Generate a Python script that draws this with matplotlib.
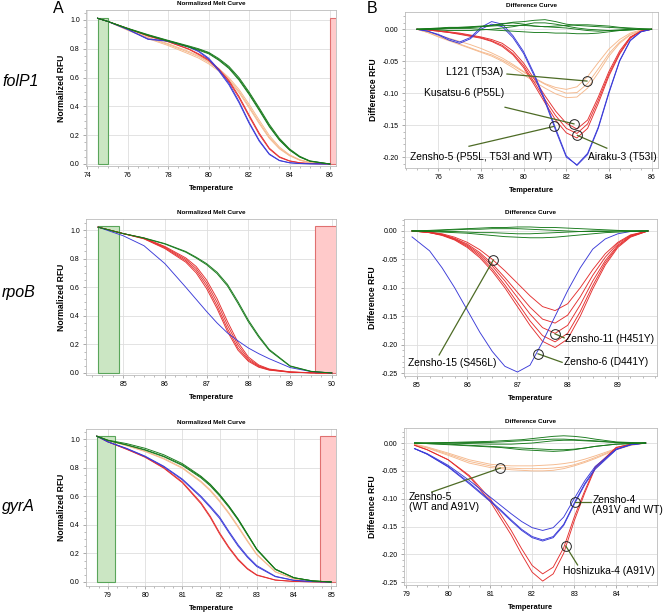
import matplotlib
matplotlib.use('Agg')
import matplotlib.pyplot as plt
from matplotlib.patches import Rectangle
from matplotlib.ticker import MultipleLocator, AutoMinorLocator

plt.rcParams['font.family'] = ['Liberation Sans', 'DejaVu Sans']

# ---------------- folP1 : normalized melt ----------------
folp1_melt_t = [74.5, 75, 76, 77, 78, 79, 79.5, 80, 80.5, 81, 81.5, 82, 82.5, 83, 83.5, 84, 84.5, 85, 86]
folp1_melt_green = [
    [1.012, 0.99, 0.94, 0.895, 0.855, 0.815, 0.795, 0.77, 0.725, 0.67, 0.59, 0.49, 0.38, 0.265, 0.17, 0.10, 0.05, 0.02, 0.0],
    [1.012, 0.99, 0.942, 0.898, 0.858, 0.82, 0.80, 0.775, 0.732, 0.678, 0.60, 0.50, 0.39, 0.275, 0.178, 0.105, 0.054, 0.022, 0.0],
    [1.012, 0.99, 0.938, 0.892, 0.852, 0.812, 0.79, 0.765, 0.72, 0.663, 0.582, 0.482, 0.372, 0.258, 0.165, 0.096, 0.048, 0.019, 0.0],
]
folp1_melt_orange = [
    [1.012, 0.99, 0.93, 0.875, 0.83, 0.775, 0.745, 0.705, 0.655, 0.59, 0.505, 0.40, 0.29, 0.185, 0.11, 0.06, 0.028, 0.01, 0.0],
    [1.012, 0.99, 0.928, 0.87, 0.822, 0.765, 0.735, 0.695, 0.645, 0.58, 0.495, 0.39, 0.28, 0.178, 0.105, 0.057, 0.026, 0.009, 0.0],
    [1.012, 0.99, 0.932, 0.878, 0.835, 0.782, 0.752, 0.712, 0.663, 0.60, 0.518, 0.415, 0.305, 0.198, 0.118, 0.064, 0.03, 0.011, 0.0],
]
folp1_melt_red = [
    [1.012, 0.99, 0.94, 0.89, 0.85, 0.80, 0.765, 0.725, 0.66, 0.58, 0.47, 0.34, 0.215, 0.11, 0.05, 0.022, 0.009, 0.003, 0.0],
    [1.012, 0.99, 0.94, 0.888, 0.848, 0.797, 0.76, 0.718, 0.652, 0.57, 0.46, 0.33, 0.205, 0.104, 0.046, 0.02, 0.008, 0.003, 0.0],
]
folp1_melt_blue = [
    [1.012, 0.99, 0.935, 0.868, 0.855, 0.815, 0.785, 0.735, 0.655, 0.56, 0.435, 0.29, 0.165, 0.07, 0.025, 0.009, 0.003, 0.001, 0.0],
    [1.012, 0.99, 0.933, 0.865, 0.852, 0.812, 0.78, 0.728, 0.646, 0.55, 0.425, 0.282, 0.158, 0.066, 0.023, 0.008, 0.003, 0.001, 0.0],
]

# ---------------- folP1 : difference ----------------
folp1_diff_t = [75, 75.5, 76, 76.5, 77, 77.5, 78, 78.5, 79, 79.5, 80, 80.5, 81, 81.5, 82, 82.5, 83, 83.5, 84, 84.5, 85, 85.5, 86]
folp1_diff_green = [
    [0, 0.001, 0.002, 0.003, 0.003, 0.004, 0.005, 0.006, 0.008, 0.011, 0.012, 0.014, 0.015, 0.012, 0.008, 0.006, 0.005, 0.004, 0.003, 0.002, 0.001, 0.0, 0],
    [0, 0.0, 0.001, 0.002, 0.002, 0.003, 0.004, 0.006, 0.009, 0.01, 0.008, 0.005, 0.004, 0.003, 0.002, 0.0, -0.002, -0.003, -0.002, -0.001, 0.0, 0.0, 0],
    [0, 0.0, 0.0, 0.001, 0.001, 0.001, 0.0, -0.001, -0.002, -0.003, -0.004, -0.005, -0.005, -0.006, -0.006, -0.007, -0.007, -0.006, -0.004, -0.002, -0.001, 0.0, 0],
    [0, 0.001, 0.001, 0.002, 0.003, 0.003, 0.004, 0.005, 0.006, 0.006, 0.006, 0.005, 0.004, 0.005, 0.006, 0.007, 0.007, 0.006, 0.005, 0.003, 0.002, 0.001, 0],
    [0, 0, -0.001, -0.002, -0.002, -0.002, -0.001, 0.0, 0.002, 0.004, 0.007, 0.01, 0.01, 0.008, 0.005, 0.002, 0.0, -0.001, -0.002, -0.002, -0.001, 0, 0],
]
folp1_diff_orange = [
    [0, -0.005, -0.011, -0.017, -0.023, -0.029, -0.035, -0.04, -0.048, -0.057, -0.067, -0.077, -0.086, -0.094, -0.1, -0.099, -0.085, -0.062, -0.038, -0.02, -0.008, -0.002, 0],
    [0, -0.005, -0.012, -0.018, -0.024, -0.03, -0.036, -0.042, -0.05, -0.06, -0.071, -0.082, -0.092, -0.101, -0.107, -0.106, -0.092, -0.068, -0.042, -0.022, -0.009, -0.002, 0],
    [0, -0.004, -0.009, -0.014, -0.019, -0.024, -0.03, -0.037, -0.045, -0.055, -0.066, -0.076, -0.085, -0.091, -0.094, -0.09, -0.074, -0.052, -0.031, -0.016, -0.006, -0.001, 0],
]
folp1_diff_red = [
    [0, -0.001, -0.003, -0.005, -0.007, -0.01, -0.013, -0.018, -0.025, -0.038, -0.057, -0.083, -0.11, -0.135, -0.155, -0.163, -0.148, -0.111, -0.07, -0.037, -0.013, -0.003, 0],
    [0, -0.001, -0.003, -0.005, -0.008, -0.011, -0.014, -0.019, -0.027, -0.04, -0.06, -0.087, -0.115, -0.142, -0.162, -0.17, -0.155, -0.116, -0.073, -0.039, -0.014, -0.003, 0],
    [0, -0.001, -0.002, -0.004, -0.006, -0.009, -0.012, -0.016, -0.022, -0.034, -0.053, -0.078, -0.104, -0.128, -0.147, -0.156, -0.142, -0.106, -0.066, -0.034, -0.012, -0.003, 0],
]
folp1_diff_blue = [
    [0, -0.003, -0.008, -0.015, -0.02, -0.013, 0.003, 0.012, 0.008, -0.01, -0.035, -0.07, -0.11, -0.155, -0.198, -0.213, -0.196, -0.155, -0.10, -0.05, -0.018, -0.004, 0],
    [0, -0.003, -0.009, -0.017, -0.022, -0.015, 0.0, 0.008, 0.004, -0.013, -0.038, -0.073, -0.113, -0.158, -0.2, -0.212, -0.194, -0.153, -0.098, -0.049, -0.017, -0.004, 0],
]

# ---------------- rpoB : normalized melt ----------------
rpob_melt_t = [84.4, 85, 85.5, 86, 86.5, 86.75, 87, 87.25, 87.5, 87.75, 88, 88.25, 88.5, 89, 89.5, 90]
rpob_melt_green = [
    [1.02, 0.975, 0.945, 0.905, 0.85, 0.81, 0.765, 0.705, 0.62, 0.5, 0.37, 0.26, 0.165, 0.05, 0.012, 0.0],
    [1.02, 0.975, 0.943, 0.902, 0.845, 0.804, 0.757, 0.695, 0.608, 0.487, 0.358, 0.25, 0.158, 0.047, 0.011, 0.0],
]
rpob_melt_red = [
    [1.02, 0.975, 0.94, 0.875, 0.785, 0.715, 0.61, 0.47, 0.31, 0.175, 0.09, 0.045, 0.022, 0.006, 0.001, 0.0],
    [1.02, 0.975, 0.942, 0.88, 0.795, 0.73, 0.63, 0.495, 0.335, 0.195, 0.1, 0.05, 0.025, 0.007, 0.001, 0.0],
    [1.02, 0.975, 0.938, 0.87, 0.775, 0.70, 0.59, 0.45, 0.29, 0.16, 0.082, 0.04, 0.02, 0.005, 0.001, 0.0],
    [1.02, 0.975, 0.944, 0.885, 0.805, 0.745, 0.65, 0.52, 0.36, 0.215, 0.112, 0.056, 0.028, 0.008, 0.002, 0.0],
]
rpob_melt_blue = [
    [1.02, 0.96, 0.89, 0.765, 0.6, 0.515, 0.43, 0.35, 0.28, 0.225, 0.175, 0.135, 0.1, 0.038, 0.01, 0.0],
]

# ---------------- rpoB : difference ----------------
rpob_diff_t = [84.9, 85.25, 85.5, 85.75, 86, 86.25, 86.5, 86.75, 87, 87.25, 87.5, 87.75, 88, 88.25, 88.5, 88.75, 89, 89.25, 89.6]
rpob_diff_green = [
    [0, 0.001, 0.002, 0.003, 0.004, 0.005, 0.006, 0.006, 0.007, 0.007, 0.006, 0.006, 0.005, 0.004, 0.003, 0.002, 0.001, 0.0, 0],
    [0, -0.001, -0.002, -0.003, -0.004, -0.006, -0.008, -0.01, -0.011, -0.012, -0.012, -0.011, -0.009, -0.007, -0.005, -0.003, -0.002, -0.001, 0],
    [0, 0.0, 0.001, 0.002, 0.003, 0.003, 0.004, 0.004, 0.004, 0.003, 0.002, 0.001, 0.0, -0.001, -0.001, -0.001, 0.0, 0.0, 0],
    [0, 0.0, -0.001, -0.001, -0.002, -0.003, -0.003, -0.004, -0.005, -0.005, -0.004, -0.003, -0.002, -0.001, 0.0, 0.0, 0.0, 0.0, 0],
]
rpob_diff_red = [
    [0, -0.002, -0.005, -0.011, -0.02, -0.033, -0.05, -0.07, -0.092, -0.114, -0.133, -0.14, -0.128, -0.1, -0.068, -0.04, -0.02, -0.007, 0],
    [0, -0.002, -0.006, -0.013, -0.023, -0.038, -0.058, -0.082, -0.108, -0.134, -0.155, -0.162, -0.148, -0.116, -0.078, -0.046, -0.022, -0.008, 0],
    [0, -0.003, -0.007, -0.014, -0.025, -0.041, -0.062, -0.088, -0.117, -0.146, -0.17, -0.18, -0.166, -0.13, -0.088, -0.052, -0.025, -0.009, 0],
    [0, -0.003, -0.007, -0.015, -0.027, -0.044, -0.067, -0.095, -0.126, -0.158, -0.184, -0.195, -0.18, -0.142, -0.096, -0.056, -0.027, -0.01, 0],
    [0, -0.003, -0.008, -0.016, -0.029, -0.047, -0.071, -0.1, -0.133, -0.166, -0.194, -0.205, -0.19, -0.15, -0.102, -0.06, -0.029, -0.011, 0],
]
rpob_diff_blue = [
    [-0.0105, -0.035, -0.065, -0.1, -0.139, -0.178, -0.212, -0.238, -0.248, -0.236, -0.195, -0.15, -0.105, -0.065, -0.032, -0.014, -0.005, -0.001, 0],
]

# ---------------- gyrA : normalized melt ----------------
gyra_melt_t = [78.7, 79, 79.5, 80, 80.5, 81, 81.5, 81.75, 82, 82.25, 82.5, 82.75, 83, 83.5, 84, 84.5, 85]
gyra_melt_green = [
    [1.02, 0.99, 0.96, 0.925, 0.88, 0.82, 0.735, 0.68, 0.61, 0.53, 0.44, 0.335, 0.23, 0.09, 0.03, 0.008, 0.0],
    [1.02, 0.992, 0.968, 0.935, 0.89, 0.828, 0.74, 0.684, 0.613, 0.532, 0.44, 0.335, 0.23, 0.09, 0.03, 0.008, 0.0],
    [1.02, 0.99, 0.958, 0.922, 0.876, 0.815, 0.728, 0.672, 0.602, 0.522, 0.432, 0.328, 0.225, 0.087, 0.029, 0.008, 0.0],
]
gyra_melt_orange = [
    [1.02, 0.99, 0.955, 0.915, 0.865, 0.80, 0.705, 0.645, 0.57, 0.485, 0.39, 0.29, 0.195, 0.072, 0.022, 0.006, 0.0],
    [1.02, 0.99, 0.953, 0.912, 0.86, 0.795, 0.698, 0.637, 0.562, 0.477, 0.382, 0.283, 0.19, 0.07, 0.021, 0.006, 0.0],
]
gyra_melt_red = [
    [1.02, 0.98, 0.93, 0.875, 0.80, 0.70, 0.555, 0.46, 0.345, 0.245, 0.16, 0.095, 0.05, 0.014, 0.004, 0.001, 0.0],
    [1.02, 0.98, 0.928, 0.872, 0.796, 0.694, 0.547, 0.451, 0.336, 0.237, 0.153, 0.09, 0.047, 0.013, 0.004, 0.001, 0.0],
]
gyra_melt_blue = [
    [1.02, 0.98, 0.935, 0.88, 0.81, 0.72, 0.6, 0.53, 0.455, 0.355, 0.26, 0.18, 0.115, 0.04, 0.012, 0.003, 0.0],
    [1.02, 0.98, 0.933, 0.877, 0.806, 0.714, 0.592, 0.521, 0.445, 0.345, 0.25, 0.172, 0.108, 0.037, 0.011, 0.003, 0.0],
]

# ---------------- gyrA : difference ----------------
gyra_diff_t = [79.2, 79.5, 80, 80.5, 81, 81.25, 81.5, 81.75, 82, 82.25, 82.5, 82.75, 83, 83.25, 83.5, 84, 84.35, 84.7]
gyra_diff_green = [
    [0, 0.0, 0.001, 0.002, 0.003, 0.004, 0.005, 0.006, 0.008, 0.01, 0.012, 0.013, 0.012, 0.01, 0.007, 0.002, 0.001, 0],
    [0, -0.001, -0.002, -0.004, -0.006, -0.007, -0.008, -0.009, -0.01, -0.011, -0.012, -0.012, -0.011, -0.009, -0.006, -0.002, -0.001, 0],
    [0, 0.0, 0.0, 0.001, 0.001, 0.002, 0.003, 0.004, 0.005, 0.006, 0.007, 0.007, 0.006, 0.005, 0.004, 0.001, 0.0, 0],
    [0, -0.001, -0.003, -0.005, -0.007, -0.008, -0.01, -0.012, -0.013, -0.014, -0.015, -0.014, -0.012, -0.009, -0.006, -0.002, -0.001, 0],
    [0, 0.0, 0.0, -0.001, -0.002, -0.002, -0.002, -0.001, 0.0, 0.002, 0.004, 0.005, 0.005, 0.004, 0.003, 0.001, 0.0, 0],
]
gyra_diff_orange = [
    [-0.003, -0.009, -0.022, -0.036, -0.044, -0.046, -0.048, -0.049, -0.05, -0.05, -0.049, -0.046, -0.041, -0.035, -0.028, -0.012, -0.004, 0],
    [-0.003, -0.008, -0.02, -0.033, -0.041, -0.044, -0.045, -0.046, -0.046, -0.046, -0.045, -0.043, -0.039, -0.033, -0.026, -0.011, -0.004, 0],
    [-0.002, -0.007, -0.018, -0.03, -0.038, -0.04, -0.041, -0.041, -0.041, -0.04, -0.039, -0.037, -0.034, -0.029, -0.023, -0.01, -0.003, 0],
]
gyra_diff_red = [
    [-0.004, -0.012, -0.03, -0.06, -0.105, -0.135, -0.165, -0.2, -0.232, -0.248, -0.235, -0.198, -0.14, -0.09, -0.045, -0.008, -0.002, 0],
    [-0.004, -0.012, -0.03, -0.058, -0.1, -0.128, -0.157, -0.19, -0.22, -0.235, -0.223, -0.188, -0.133, -0.086, -0.043, -0.008, -0.002, 0],
]
gyra_diff_blue = [
    [-0.01, -0.02, -0.043, -0.073, -0.105, -0.122, -0.14, -0.157, -0.17, -0.176, -0.17, -0.148, -0.11, -0.075, -0.047, -0.012, -0.003, 0],
    [-0.01, -0.02, -0.042, -0.071, -0.103, -0.12, -0.138, -0.155, -0.168, -0.174, -0.168, -0.146, -0.108, -0.073, -0.045, -0.011, -0.003, 0],
    [-0.01, -0.019, -0.04, -0.067, -0.097, -0.112, -0.127, -0.141, -0.152, -0.157, -0.152, -0.133, -0.1, -0.068, -0.042, -0.011, -0.003, 0],
]

# melt region markers: (pre start, pre end, post start, top)
folp1_bands = (74.5, 75.0, 86.0, 1.012)
rpob_bands = (84.4, 84.9, 89.6, 1.025)
gyra_bands = (78.7, 79.2, 84.7, 1.022)

# annotations: label, circle point, line end, text point, alignment
folp1_notes = [
    ('L121 (T53A)', (82.97, -0.081), (79.22, -0.070), (77.70, -0.067), 'center'),
    ('Kusatsu-6 (P55L)', (82.36, -0.148), (79.13, -0.122), (77.23, -0.100), 'center'),
    ('Zensho-5 (P55L, T53I and WT)', (81.42, -0.152), (77.44, -0.183), (78.0, -0.200), 'center'),
    ('Airaku-3 (T53I)', (82.52, -0.166), (83.90, -0.186), (84.61, -0.200), 'center'),
]
rpob_notes = [
    ('Zensho-15 (S456L)', (86.52, -0.051), (85.44, -0.218), (85.70, -0.232), 'center'),
    ('Zensho-11 (H451Y)', (87.75, -0.181), (87.93, -0.188), (87.95, -0.190), 'left'),
    ('Zensho-6 (D441Y)', (87.41, -0.216), (87.89, -0.231), (87.93, -0.231), 'left'),
]
gyra_notes = [
    ('Zensho-5\n(WT and A91V)', (81.24, -0.045), (79.61, -0.088), (79.07, -0.106), 'left'),
    ('Zensho-4\n(A91V and WT)', (83.03, -0.106), (83.40, -0.106), (83.43, -0.111), 'left'),
    ('Hoshizuka-4 (A91V)', (82.80, -0.185), (83.08, -0.219), (83.83, -0.230), 'center'),
]

GREEN = '#16791a'
ORANGE = '#f5b98d'
RED = '#e42f2f'
BLUE = '#3a3ad8'
NOTE = '#4d6b25'

W, H = 664, 612
fig = plt.figure(figsize=(W / 100, H / 100), dpi=100)


def px_rect(x0, y0, x1, y1):
    return [x0 / W, 1 - y1 / H, (x1 - x0) / W, (y1 - y0) / H]


def style_axes(ax, title, ylabel, xlim, ylim, xmaj, ymaj, yfmt):
    ax.set_xlim(*xlim)
    ax.set_ylim(*ylim)
    ax.xaxis.set_major_locator(MultipleLocator(xmaj))
    ax.yaxis.set_major_locator(MultipleLocator(ymaj))
    ax.xaxis.set_minor_locator(AutoMinorLocator(4))
    ax.yaxis.set_minor_locator(AutoMinorLocator(5 if yfmt == '%.2f' else 4))
    ax.yaxis.set_major_formatter(plt.FormatStrFormatter(yfmt))
    ax.grid(which='major', color='#dedede', lw=0.6)
    ax.set_axisbelow(True)
    ax.tick_params(which='major', labelsize=5, length=2.5, width=0.5, pad=2, color='#888888')
    ax.tick_params(which='minor', length=1.5, width=0.4, color='#888888')
    for s in ax.spines.values():
        s.set_color('#bbbbbb')
        s.set_linewidth(0.6)
    ax.set_title(title, fontsize=4.6, fontweight='bold', pad=3.5)
    ax.set_xlabel('Temperature', fontsize=5.4, fontweight='bold', labelpad=4)
    ax.set_ylabel(ylabel, fontsize=6.2, fontweight='bold', labelpad=3)


def draw_curves(ax, t, groups):
    for curves, color in groups:
        for c in curves:
            ax.plot(t, c, color=color, lw=0.65)


def draw_bands(ax, bands):
    x0, x1, x2, top = bands
    ax.add_patch(Rectangle((x0, 0), x1 - x0, top, facecolor='#cbe6c3', edgecolor='#5aa55a', lw=0.8, zorder=1))
    ax.add_patch(Rectangle((x2, 0), 1.0, top, facecolor='#ffcaca', edgecolor='#e07070', lw=0.8, zorder=1))


def draw_notes(ax, notes):
    for label, (cx, cy), (lx, ly), (tx, ty), ha in notes:
        ax.plot([cx, lx], [cy, ly], color=NOTE, lw=0.9, zorder=5)
        ax.plot([cx], [cy], 'o', ms=7, mfc='none', mec='#222222', mew=0.7, zorder=6)
        ax.text(tx, ty, label, fontsize=7.4, ha=ha, va='center', clip_on=False,
                zorder=7, linespacing=1.0)


melt_title = 'Normalized Melt Curve'
diff_title = 'Difference Curve'

# row 1: folP1
ax = fig.add_axes(px_rect(86, 10, 336, 166))
draw_bands(ax, folp1_bands)
draw_curves(ax, folp1_melt_t, [(folp1_melt_orange, ORANGE), (folp1_melt_red, RED),
                               (folp1_melt_blue, BLUE), (folp1_melt_green, GREEN)])
style_axes(ax, melt_title, 'Normalized RFU', (73.93, 86.3), (-0.014, 1.069), 2, 0.2, '%.1f')

ax = fig.add_axes(px_rect(405, 12, 658, 168))
draw_curves(ax, folp1_diff_t, [(folp1_diff_orange, ORANGE), (folp1_diff_red, RED),
                               (folp1_diff_blue, BLUE), (folp1_diff_green, GREEN)])
style_axes(ax, diff_title, 'Difference RFU', (74.44, 86.3), (-0.217, 0.027), 2, 0.05, '%.2f')
draw_notes(ax, folp1_notes)

# row 2: rpoB
ax = fig.add_axes(px_rect(86, 219, 336, 375))
draw_bands(ax, rpob_bands)
draw_curves(ax, rpob_melt_t, [(rpob_melt_red, RED), (rpob_melt_blue, BLUE), (rpob_melt_green, GREEN)])
style_axes(ax, melt_title, 'Normalized RFU', (84.11, 90.1), (-0.014, 1.077), 1, 0.2, '%.1f')

ax = fig.add_axes(px_rect(404, 219, 657, 376))
draw_curves(ax, rpob_diff_t, [(rpob_diff_red, RED), (rpob_diff_blue, BLUE), (rpob_diff_green, GREEN)])
style_axes(ax, diff_title, 'Difference RFU', (84.74, 89.78), (-0.255, 0.021), 1, 0.05, '%.2f')
draw_notes(ax, rpob_notes)

# row 3: gyrA
ax = fig.add_axes(px_rect(86, 429, 336, 586))
draw_bands(ax, gyra_bands)
draw_curves(ax, gyra_melt_t, [(gyra_melt_orange, ORANGE), (gyra_melt_red, RED),
                              (gyra_melt_blue, BLUE), (gyra_melt_green, GREEN)])
style_axes(ax, melt_title, 'Normalized RFU', (78.41, 85.13), (-0.028, 1.07), 1, 0.2, '%.1f')

ax = fig.add_axes(px_rect(404, 428, 657, 585))
draw_curves(ax, gyra_diff_t, [(gyra_diff_orange, ORANGE), (gyra_diff_red, RED),
                              (gyra_diff_blue, BLUE), (gyra_diff_green, GREEN)])
style_axes(ax, diff_title, 'Difference RFU', (78.95, 84.97), (-0.255, 0.027), 1, 0.05, '%.2f')
draw_notes(ax, gyra_notes)

# row labels and panel letters
for name, ypx in [('folP1', 82), ('rpoB', 292), ('gyrA', 506)]:
    fig.text(2 / W, 1 - ypx / H, name, fontsize=11.5, style='italic', va='center', ha='left')
fig.text(53 / W, 1 - 1 / H, 'A', fontsize=11.5, va='top', ha='left')
fig.text(367 / W, 1 - 1 / H, 'B', fontsize=11.5, va='top', ha='left')

fig.savefig('out.png', dpi=100)
